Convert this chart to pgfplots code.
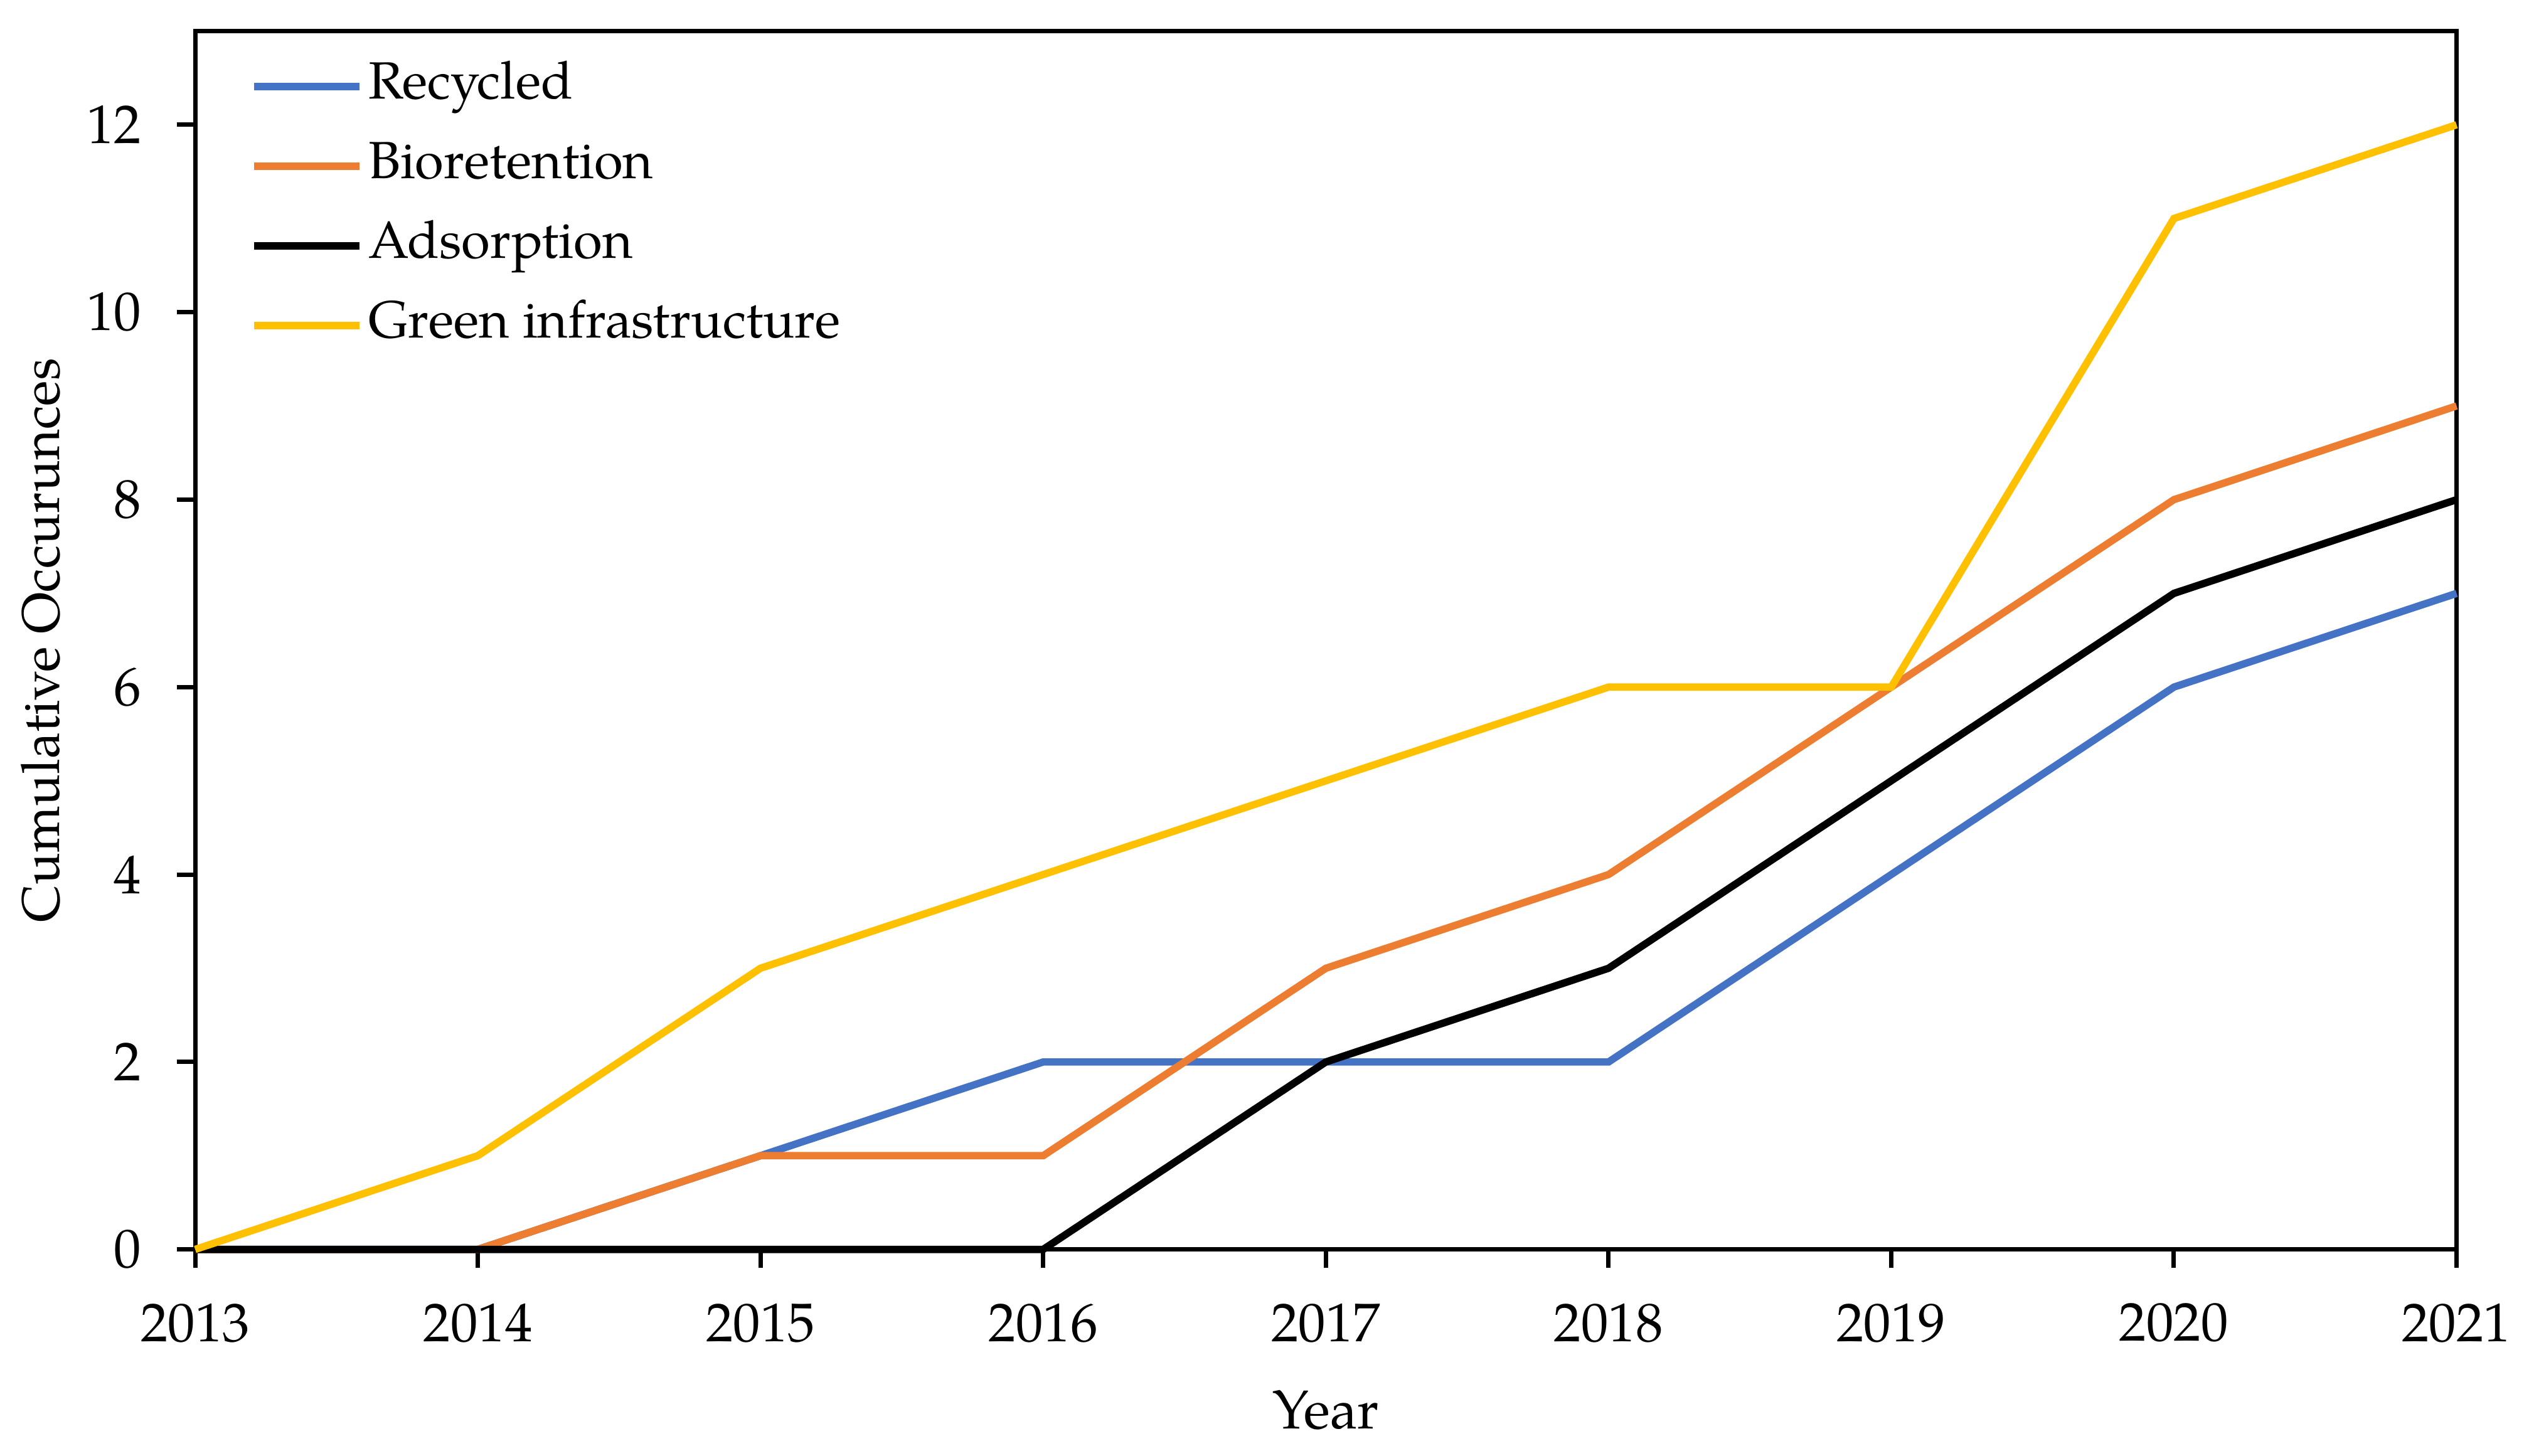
\documentclass[border=0pt]{standalone}
\usepackage{fontspec}
\setmainfont{TeX Gyre Pagella}
\usepackage{pgfplots}
\pgfplotsset{compat=1.18}

\definecolor{cRec}{HTML}{4472C4}
\definecolor{cBio}{HTML}{ED7D31}
\definecolor{cGreen}{HTML}{FFC000}

\begin{document}
\begin{tikzpicture}
\begin{axis}[
    name=ax,
    width=414.8pt, height=223.5pt,
    scale only axis,
    xmin=2013, xmax=2021,
    ymin=0, ymax=13,
    xtick={2013,...,2021},
    ytick={0,2,...,12},
    xticklabel style={/pgf/number format/1000 sep={}, yshift=-3pt},
    yticklabel style={xshift=-3pt},
    /pgf/number format/assume math mode=true,
    xtick pos=left, ytick pos=left,
    tick align=outside,
    major tick length=3.4pt,
    every tick/.style={black, line width=0.8pt},
    axis line style={line width=0.8pt},
    xlabel={Year},
    ylabel={Cumulative Occurunces},
    xlabel style={at={(axis description cs:0.5,-0.147)}, anchor=base},
    ylabel style={at={(axis description cs:-0.060,0.5)}, anchor=base,
        font=\fontsize{9.7}{11.5}\selectfont},
    clip=false,
    every axis plot/.append style={line width=1.35pt},
    legend cell align=left,
    legend image code/.code={\draw[#1] (0pt,0pt) -- (19.3pt,0pt);},
    legend style={draw=none, fill=none, inner sep=0pt,
        at={(axis description cs:0.0239,0.981)}, anchor=north west,
        row sep=3.1pt, column sep=0pt,
        font=\fontsize{9.6}{11.5}\selectfont,
        nodes={inner sep=1pt, text height=7pt, text depth=2.5pt}},
]
\addplot[cRec] coordinates {
    (2013,0) (2014,0) (2015,1) (2016,2) (2017,2) (2018,2) (2019,4) (2020,6) (2021,7)
};
\addlegendentry{Recycled}
\addplot[cBio] coordinates {
    (2013,0) (2014,0) (2015,1) (2016,1) (2017,3) (2018,4) (2019,6) (2020,8) (2021,9)
};
\addlegendentry{Bioretention}
\addplot[black] coordinates {
    (2013,0) (2014,0) (2015,0) (2016,0) (2017,2) (2018,3) (2019,5) (2020,7) (2021,8)
};
\addlegendentry{Adsorption}
\addplot[cGreen] coordinates {
    (2013,0) (2014,1) (2015,3) (2016,4) (2017,5) (2018,6) (2019,6) (2020,11) (2021,12)
};
\addlegendentry{Green infrastructure}
\end{axis}
\path ([shift={(-35.8pt,-37.9pt)}]ax.south west) rectangle ([shift={(12.2pt,5.7pt)}]ax.north east);
\end{tikzpicture}
\end{document}
